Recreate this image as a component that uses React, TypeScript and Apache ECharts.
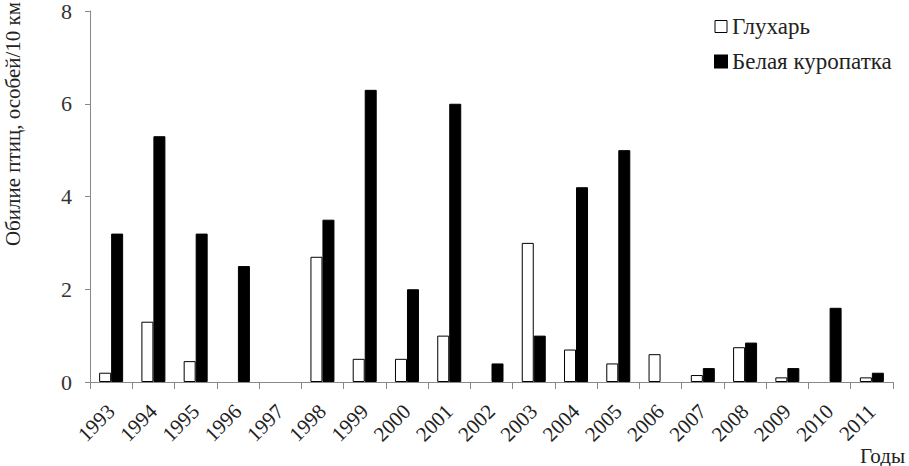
import React, { useEffect, useRef } from "react";
import * as echarts from "echarts";

const years = ["1993","1994","1995","1996","1997","1998","1999","2000","2001","2002","2003","2004","2005","2006","2007","2008","2009","2010","2011"];
const capercaillie = [0.2,1.3,0.45,0,0,2.7,0.5,0.5,1.0,0,3.0,0.7,0.4,0.6,0.15,0.75,0.1,0,0.1];
const ptarmigan = [3.2,5.3,3.2,2.5,0,3.5,6.3,2.0,6.0,0.4,1.0,4.2,5.0,0,0.3,0.85,0.3,1.6,0.2];
const yTicks = [0, 2, 4, 6, 8];
const seriesNames = ["Глухарь", "Белая куропатка"];
const yTitle = "Обилие птиц, особей/10 км";
const xTitle = "Годы";

const FONT = "Liberation Serif, DejaVu Serif, serif";

const hideZero = (arr: number[]) => arr.map((v) => (v === 0 ? null : v));

export default function App() {
  const ref = useRef<HTMLDivElement>(null);
  useEffect(() => {
    if (!ref.current) return;
    const chart = echarts.init(ref.current, undefined, { renderer: "svg" });
    chart.setOption({
      animation: false,
      backgroundColor: "#fff",
      textStyle: { fontFamily: FONT },
      grid: { left: 90, top: 8, right: 16, bottom: 84, containLabel: false },
      legend: {
        orient: "vertical",
        left: 709,
        top: 10,
        itemWidth: 12,
        itemHeight: 12,
        itemGap: 12,
        icon: "rect",
        textStyle: { fontFamily: FONT, fontSize: 23, color: "#222" },
        data: [
          { name: seriesNames[0], itemStyle: { color: "#fff", borderColor: "#000", borderWidth: 1 } },
          { name: seriesNames[1], itemStyle: { color: "#000" } },
        ],
      },
      xAxis: {
        type: "category",
        data: years,
        axisLine: { lineStyle: { color: "#888", width: 1 } },
        axisTick: { show: true, length: 7, lineStyle: { color: "#888" } },
        axisLabel: { rotate: 45, fontFamily: FONT, fontSize: 21, color: "#222", margin: 26, interval: 0 },
      },
      yAxis: {
        type: "value",
        min: 0,
        max: yTicks[yTicks.length - 1],
        interval: 2,
        splitLine: { show: false },
        axisLine: { show: true, lineStyle: { color: "#888", width: 1 } },
        axisTick: { show: true, length: 5, lineStyle: { color: "#888" } },
        axisLabel: { fontFamily: FONT, fontSize: 22, color: "#333", margin: 18 },
      },
      graphic: [
        {
          type: "text",
          x: 13,
          y: 124,
          rotation: Math.PI / 2,
          style: { text: yTitle, fontFamily: FONT, fontSize: 21, fill: "#222", align: "center", verticalAlign: "middle" },
        },
        {
          type: "text",
          x: 905,
          y: 466,
          style: { text: xTitle, fontFamily: FONT, fontSize: 21, fill: "#222", align: "right", verticalAlign: "bottom" },
        },
      ],
      series: [
        {
          name: seriesNames[0],
          type: "bar",
          data: hideZero(capercaillie),
          barWidth: 12,
          barGap: "0%",
          itemStyle: { color: "#fff", borderColor: "#000", borderWidth: 1 },
        },
        {
          name: seriesNames[1],
          type: "bar",
          data: hideZero(ptarmigan),
          barWidth: 12,
          barGap: "0%",
          itemStyle: { color: "#000", borderColor: "#000", borderWidth: 1 },
        },
      ],
    });
    return () => chart.dispose();
  }, []);
  return <div ref={ref} style={{ width: 909, height: 466, position: "absolute", left: 0, top: 0 }} />;
}
